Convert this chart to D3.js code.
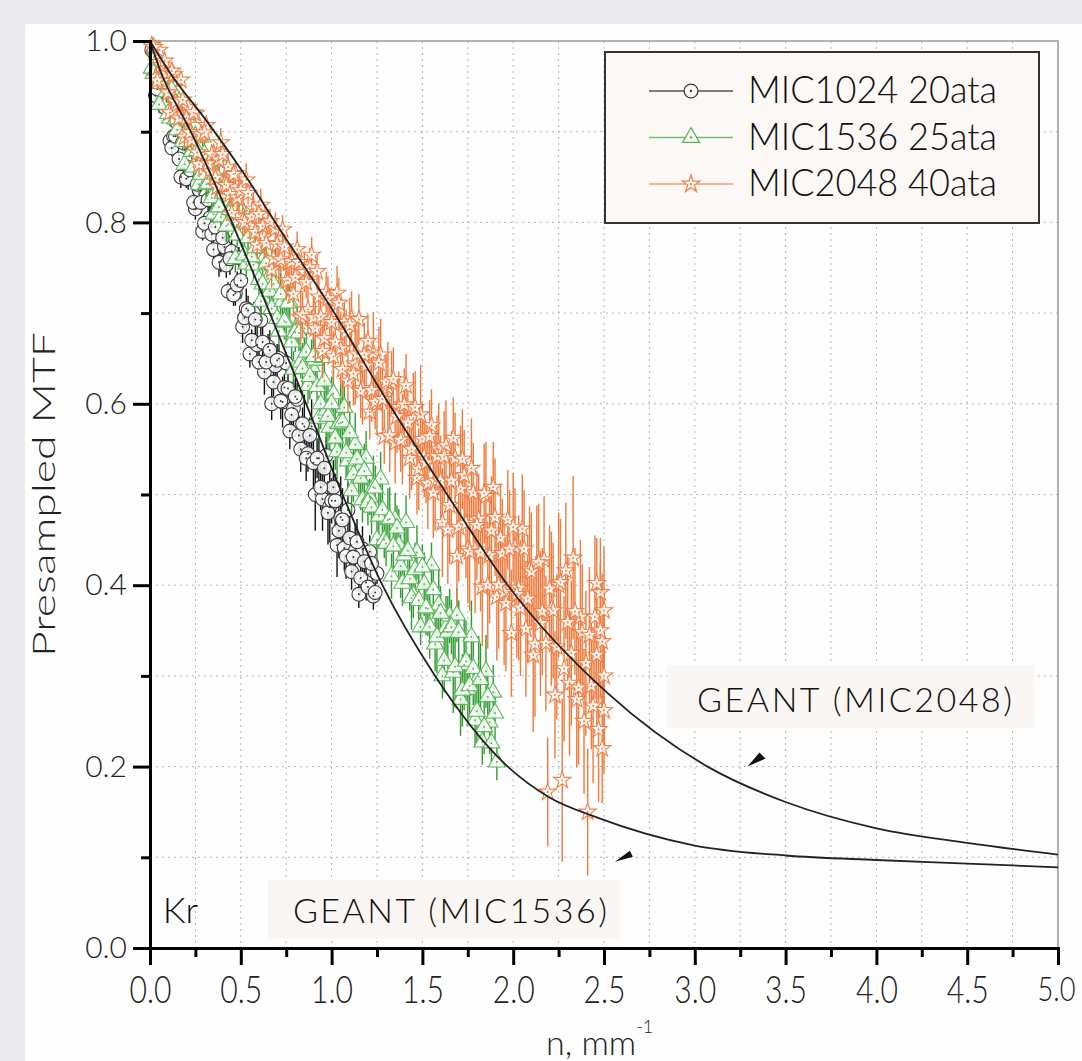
<!DOCTYPE html>
<html>
<head>
<meta charset="utf-8">
<script src="https://cdn.jsdelivr.net/npm/d3@7"></script>
<style>
  body { margin: 0; background: #ebebef; }
  svg { display: block; }
</style>
</head>
<body>
<div id="chart"></div>
<script>
// measured points [n, MTF, error]
const mic1024 = [
  [0.01,0.99,0.005],[0.03,0.94,0.01],[0.05,0.965,0.008],[0.07,0.93,0.012],[0.09,0.955,0.006],[0.11,0.89,0.01],
  [0.13,0.895,0.015],[0.15,0.91,0.008],[0.17,0.85,0.012],[0.19,0.88,0.01],[0.21,0.85,0.014],[0.23,0.875,0.007],
  [0.25,0.815,0.012],[0.27,0.836,0.016],[0.29,0.79,0.01],[0.31,0.83,0.009],[0.33,0.805,0.014],[0.35,0.77,0.011],
  [0.37,0.816,0.018],[0.39,0.757,0.012],[0.41,0.773,0.015],[0.43,0.724,0.01],[0.45,0.768,0.02],[0.47,0.722,0.014],
  [0.49,0.761,0.012],[0.51,0.685,0.018],[0.53,0.705,0.022],[0.55,0.655,0.015],[0.57,0.70,0.012],[0.59,0.665,0.02],
  [0.61,0.692,0.016],[0.63,0.635,0.025],[0.65,0.663,0.014],[0.67,0.60,0.018],[0.69,0.642,0.022],[0.71,0.65,0.015],
  [0.73,0.602,0.028],[0.75,0.645,0.012],[0.77,0.57,0.02],[0.79,0.595,0.03],[0.81,0.605,0.018],[0.83,0.55,0.025],
  [0.85,0.575,0.035],[0.87,0.545,0.02],[0.89,0.575,0.03],[0.91,0.50,0.04],[0.93,0.54,0.025],[0.95,0.495,0.035],
  [0.97,0.543,0.02],[0.99,0.487,0.04],[1.01,0.508,0.03],[1.03,0.444,0.035],[1.05,0.475,0.045],[1.07,0.441,0.025],
  [1.09,0.483,0.03],[1.11,0.415,0.02],[1.13,0.438,0.03],[1.15,0.39,0.015],[1.17,0.44,0.025],[1.19,0.403,0.02],
  [1.21,0.437,0.018],[1.23,0.388,0.015],[1.25,0.413,0.012],
  [0.02,0.988,0.006],[0.04,0.947,0.008],[0.06,0.968,0.01],[0.08,0.927,0.007],[0.10,0.933,0.012],[0.12,0.882,0.009],
  [0.14,0.895,0.011],[0.16,0.87,0.008],[0.18,0.888,0.013],[0.20,0.848,0.01],[0.22,0.858,0.009],[0.24,0.822,0.014],
  [0.26,0.842,0.011],[0.28,0.822,0.012],[0.30,0.799,0.01],[0.32,0.825,0.015],[0.34,0.787,0.012],[0.36,0.795,0.01],
  [0.38,0.756,0.016],[0.40,0.783,0.012],[0.42,0.753,0.014],[0.44,0.76,0.018],[0.46,0.72,0.012],[0.48,0.731,0.015],
  [0.50,0.736,0.02],[0.52,0.695,0.014],[0.54,0.703,0.016],[0.56,0.67,0.012],[0.58,0.693,0.02],[0.60,0.646,0.015],
  [0.62,0.668,0.018],[0.64,0.646,0.014],[0.66,0.659,0.022],[0.68,0.624,0.016],[0.70,0.648,0.018],[0.72,0.603,0.02],
  [0.74,0.618,0.015],[0.76,0.617,0.025],[0.78,0.588,0.018],[0.80,0.608,0.02],[0.82,0.565,0.022],[0.84,0.578,0.018],
  [0.86,0.54,0.025],[0.88,0.565,0.02],[0.90,0.535,0.03],[0.92,0.54,0.022],[0.94,0.508,0.025],[0.96,0.529,0.02],
  [0.98,0.48,0.035],[1.00,0.493,0.025],[1.02,0.493,0.03],[1.04,0.46,0.03],[1.06,0.472,0.035],[1.08,0.432,0.025],
  [1.10,0.452,0.03],[1.12,0.431,0.02],[1.14,0.448,0.025],[1.16,0.408,0.02],[1.18,0.426,0.018],[1.20,0.398,0.015],
  [1.22,0.424,0.015],[1.24,0.392,0.012]
]

const mic1536 = [
  [0.01,0.97,0.006],[0.03,0.99,0.008],[0.05,0.93,0.01],[0.07,0.968,0.007],[0.09,0.944,0.012],[0.11,0.915,0.009],
  [0.13,0.956,0.011],[0.15,0.902,0.008],[0.17,0.918,0.013],[0.19,0.864,0.01],[0.21,0.916,0.009],[0.23,0.878,0.014],
  [0.25,0.895,0.011],[0.27,0.842,0.012],[0.29,0.894,0.01],[0.31,0.842,0.015],[0.33,0.85,0.012],[0.35,0.809,0.01],
  [0.37,0.852,0.016],[0.39,0.806,0.012],[0.41,0.859,0.014],[0.43,0.798,0.018],[0.45,0.816,0.012],[0.47,0.76,0.015],
  [0.49,0.818,0.02],[0.51,0.786,0.014],[0.53,0.754,0.016],[0.55,0.801,0.012],[0.57,0.753,0.02],[0.59,0.771,0.015],
  [0.61,0.713,0.018],[0.63,0.761,0.014],[0.65,0.738,0.022],[0.67,0.705,0.016],[0.69,0.753,0.018],[0.71,0.68,0.02],
  [0.73,0.713,0.015],[0.75,0.69,0.025],[0.77,0.712,0.018],[0.79,0.638,0.02],[0.81,0.685,0.022],[0.83,0.646,0.018],
  [0.85,0.683,0.025],[0.87,0.62,0.02],[0.89,0.641,0.03],[0.91,0.648,0.022],[0.93,0.584,0.025],[0.95,0.651,0.02],
  [0.97,0.593,0.035],[0.99,0.574,0.025],[1.01,0.611,0.04],[1.03,0.547,0.03],[1.05,0.579,0.045],[1.07,0.596,0.03],
  [1.09,0.537,0.04],[1.11,0.504,0.025],[1.13,0.555,0.035],[1.15,0.527,0.03],[1.17,0.494,0.025],[1.19,0.54,0.03],
  [1.21,0.497,0.02],[1.23,0.508,0.035],[1.25,0.45,0.025],[1.27,0.517,0.03],[1.29,0.45,0.02],[1.31,0.472,0.035],
  [1.33,0.41,0.025],[1.35,0.472,0.03],[1.37,0.444,0.04],[1.39,0.402,0.025],[1.41,0.469,0.03],[1.43,0.407,0.035],
  [1.45,0.389,0.025],[1.47,0.436,0.03],[1.49,0.354,0.02],[1.51,0.401,0.035],[1.53,0.374,0.03],[1.55,0.422,0.025],
  [1.57,0.335,0.03],[1.59,0.378,0.04],[1.61,0.30,0.025],[1.63,0.353,0.035],[1.65,0.366,0.03],[1.67,0.304,0.045],
  [1.69,0.367,0.03],[1.71,0.274,0.04],[1.73,0.312,0.05],[1.75,0.285,0.035],[1.77,0.343,0.04],[1.79,0.251,0.03],
  [1.81,0.299,0.045],[1.83,0.227,0.025],[1.85,0.305,0.04],[1.87,0.249,0.035],[1.89,0.282,0.03],[1.91,0.205,0.02],
  [0.02,0.964,0.006],[0.04,0.985,0.008],[0.06,0.953,0.007],[0.08,0.959,0.01],[0.10,0.92,0.008],[0.12,0.946,0.011],
  [0.14,0.914,0.009],[0.16,0.933,0.012],[0.18,0.889,0.01],[0.20,0.90,0.013],[0.22,0.899,0.011],[0.24,0.861,0.014],
  [0.26,0.879,0.012],[0.28,0.853,0.01],[0.30,0.875,0.015],[0.32,0.843,0.012],[0.34,0.827,0.014],[0.36,0.853,0.016],
  [0.38,0.817,0.012],[0.40,0.832,0.015],[0.42,0.796,0.018],[0.44,0.814,0.014],[0.46,0.818,0.016],[0.48,0.786,0.012],
  [0.50,0.81,0.018],[0.52,0.764,0.015],[0.54,0.783,0.02],[0.56,0.762,0.014],[0.58,0.772,0.018],[0.60,0.737,0.02],
  [0.62,0.732,0.016],[0.64,0.755,0.022],[0.66,0.724,0.018],[0.68,0.732,0.02],[0.70,0.694,0.016],[0.72,0.721,0.022],
  [0.74,0.691,0.02],[0.76,0.711,0.025],[0.78,0.668,0.018],[0.80,0.679,0.022],[0.82,0.678,0.02],[0.84,0.639,0.028],
  [0.86,0.657,0.022],[0.88,0.63,0.025],[0.90,0.652,0.03],[0.92,0.619,0.022],[0.94,0.60,0.028],[0.96,0.625,0.025],
  [0.98,0.586,0.035],[1.00,0.60,0.03],[1.02,0.562,0.035],[1.04,0.578,0.03],[1.06,0.58,0.04],[1.08,0.546,0.03],
  [1.10,0.568,0.035],[1.12,0.522,0.03],[1.14,0.539,0.025],[1.16,0.518,0.035],[1.18,0.526,0.03],[1.20,0.491,0.025],
  [1.22,0.486,0.03],[1.24,0.507,0.025],[1.26,0.476,0.035],[1.28,0.483,0.03],[1.30,0.446,0.025],[1.32,0.473,0.035],
  [1.34,0.443,0.03],[1.36,0.463,0.025],[1.38,0.421,0.035],[1.40,0.433,0.03],[1.42,0.438,0.025],[1.44,0.386,0.035],
  [1.46,0.417,0.03],[1.48,0.383,0.035],[1.50,0.42,0.025],[1.52,0.375,0.03],[1.54,0.354,0.035],[1.56,0.395,0.03],
  [1.58,0.343,0.04],[1.60,0.369,0.03],[1.62,0.317,0.035],[1.64,0.348,0.04],[1.66,0.354,0.03],[1.68,0.31,0.045],
  [1.70,0.348,0.035],[1.72,0.284,0.04],[1.74,0.316,0.045],[1.76,0.289,0.035],[1.78,0.308,0.04],[1.80,0.261,0.035],
  [1.82,0.296,0.04],[1.84,0.244,0.03],[1.86,0.277,0.035],[1.88,0.226,0.025],[1.90,0.259,0.03]
]

const mic2048 = [
  [0.01,0.995,0.005],[0.03,0.96,0.008],[0.05,0.99,0.006],[0.07,0.956,0.01],[0.09,0.964,0.007],[0.11,0.921,0.012],
  [0.13,0.963,0.009],[0.15,0.93,0.011],[0.17,0.957,0.008],[0.19,0.894,0.013],[0.21,0.927,0.01],[0.23,0.891,0.012],
  [0.25,0.92,0.009],[0.27,0.864,0.014],[0.29,0.898,0.011],[0.31,0.907,0.01],[0.33,0.856,0.015],[0.35,0.875,0.012],
  [0.37,0.839,0.013],[0.39,0.888,0.016],[0.41,0.842,0.012],[0.43,0.861,0.018],[0.45,0.81,0.014],[0.47,0.854,0.012],
  [0.49,0.828,0.02],[0.51,0.802,0.015],[0.53,0.847,0.018],[0.55,0.796,0.014],[0.57,0.815,0.02],[0.59,0.775,0.016],
  [0.61,0.819,0.018],[0.63,0.784,0.022],[0.65,0.799,0.015],[0.67,0.748,0.02],[0.69,0.793,0.018],[0.71,0.757,0.025],
  [0.73,0.792,0.016],[0.75,0.736,0.022],[0.77,0.756,0.02],[0.79,0.721,0.025],
  [0.81,0.77,0.02],[0.83,0.695,0.03],[0.85,0.745,0.022],[0.87,0.704,0.028],[0.89,0.764,0.02],[0.91,0.683,0.035],
  [0.93,0.718,0.025],[0.95,0.658,0.03],[0.97,0.723,0.022],[0.99,0.693,0.035],[1.01,0.652,0.028],[1.03,0.722,0.03],
  [1.05,0.661,0.04],[1.07,0.69,0.025],[1.09,0.625,0.035],[1.11,0.694,0.03],[1.13,0.644,0.045],[1.15,0.693,0.028],
  [1.17,0.617,0.04],[1.19,0.642,0.035],[1.21,0.591,0.03],[1.23,0.656,0.045],[1.25,0.60,0.035],[1.27,0.654,0.04],
  [1.29,0.564,0.03],[1.31,0.618,0.05],[1.33,0.623,0.035],[1.35,0.557,0.045],[1.37,0.596,0.04],[1.39,0.561,0.05],
  [1.41,0.62,0.035],[1.43,0.54,0.045],[1.45,0.584,0.05],[1.47,0.518,0.04],[1.49,0.588,0.055],[1.51,0.542,0.045],
  [1.53,0.512,0.05],[1.55,0.576,0.04],[1.57,0.515,0.055],[1.59,0.55,0.05],
  [1.61,0.469,0.06],[1.63,0.554,0.05],[1.65,0.488,0.065],[1.67,0.562,0.045],[1.69,0.432,0.055],[1.71,0.506,0.07],
  [1.73,0.521,0.05],[1.75,0.44,0.06],[1.77,0.529,0.055],[1.79,0.439,0.07],[1.81,0.473,0.05],[1.83,0.398,0.065],
  [1.85,0.498,0.06],[1.87,0.433,0.075],[1.89,0.508,0.05],[1.91,0.387,0.07],[1.93,0.452,0.06],[1.95,0.392,0.08],
  [1.97,0.472,0.055],[1.99,0.347,0.07],[2.01,0.442,0.065],[2.03,0.397,0.08],[2.05,0.462,0.06],[2.07,0.352,0.075],
  [2.09,0.417,0.07],[2.11,0.323,0.085],[2.13,0.423,0.065],[2.15,0.358,0.08],[2.17,0.428,0.07],[2.19,0.172,0.06],
  [2.21,0.374,0.085],[2.23,0.279,0.07],[2.25,0.40,0.08],[2.27,0.185,0.09],[2.29,0.416,0.075],[2.31,0.292,0.08],
  [2.33,0.43,0.09],[2.35,0.274,0.075],[2.37,0.365,0.085],[2.39,0.25,0.08],[2.41,0.15,0.07],[2.43,0.289,0.07],
  [2.45,0.365,0.09],[2.47,0.241,0.08],[2.49,0.338,0.075],[2.48,0.392,0.06],[2.5,0.372,0.07],[2.5,0.30,0.08],
  [2.49,0.22,0.06],[2.5,0.262,0.07],[2.46,0.402,0.05],
  [0.02,0.993,0.006],[0.04,0.956,0.008],[0.06,0.973,0.007],[0.08,0.978,0.009],[0.10,0.943,0.01],[0.12,0.967,0.008],
  [0.14,0.933,0.011],[0.16,0.915,0.009],[0.18,0.935,0.012],[0.20,0.915,0.01],[0.22,0.899,0.011],[0.24,0.921,0.009],
  [0.26,0.877,0.013],[0.28,0.897,0.01],[0.30,0.899,0.012],[0.32,0.865,0.014],[0.34,0.875,0.011],[0.36,0.849,0.013],
  [0.38,0.869,0.012],[0.40,0.875,0.015],[0.42,0.841,0.012],[0.44,0.831,0.014],[0.46,0.853,0.012],[0.48,0.827,0.016],
  [0.50,0.835,0.013],[0.52,0.80,0.015],[0.54,0.832,0.012],[0.56,0.806,0.016],[0.58,0.789,0.014],[0.60,0.809,0.015],
  [0.62,0.796,0.013],[0.64,0.777,0.016],[0.66,0.801,0.014],[0.68,0.76,0.018],[0.70,0.776,0.015],[0.72,0.759,0.016],
  [0.74,0.773,0.014],[0.76,0.736,0.018],[0.78,0.757,0.015],[0.80,0.739,0.018],
  [0.82,0.756,0.02],[0.84,0.698,0.025],[0.86,0.734,0.018],[0.88,0.75,0.022],[0.90,0.695,0.025],[0.92,0.746,0.02],
  [0.94,0.696,0.028],[0.96,0.672,0.022],[0.98,0.716,0.025],[1.00,0.69,0.03],[1.02,0.668,0.025],[1.04,0.711,0.028],
  [1.06,0.638,0.03],[1.08,0.679,0.025],[1.10,0.687,0.03],[1.12,0.633,0.035],[1.14,0.655,0.028],[1.16,0.614,0.03],
  [1.18,0.654,0.035],[1.20,0.669,0.03],[1.22,0.615,0.035],[1.24,0.602,0.03],[1.26,0.645,0.04],[1.28,0.605,0.035],
  [1.30,0.624,0.03],[1.32,0.565,0.04],[1.34,0.627,0.035],[1.36,0.586,0.04],[1.38,0.56,0.035],[1.40,0.599,0.04],
  [1.42,0.579,0.035],[1.44,0.55,0.045],[1.46,0.596,0.04],[1.48,0.528,0.045],[1.50,0.561,0.04],[1.52,0.535,0.045],
  [1.54,0.564,0.04],[1.56,0.502,0.05],[1.58,0.542,0.045],[1.60,0.515,0.05],
  [1.62,0.542,0.05],[1.64,0.461,0.06],[1.66,0.515,0.055],[1.68,0.54,0.05],[1.70,0.464,0.06],[1.72,0.539,0.055],
  [1.74,0.468,0.06],[1.76,0.437,0.065],[1.78,0.502,0.055],[1.80,0.466,0.06],[1.82,0.436,0.065],[1.84,0.501,0.055],
  [1.86,0.40,0.07],[1.88,0.46,0.06],[1.90,0.475,0.065],[1.92,0.40,0.07],[1.94,0.435,0.06],[1.96,0.38,0.075],
  [1.98,0.44,0.065],[2.00,0.464,0.06],[2.02,0.39,0.07],[2.04,0.375,0.075],[2.06,0.44,0.065],[2.08,0.385,0.07],
  [2.10,0.415,0.065],[2.12,0.335,0.08],[2.14,0.425,0.065],[2.16,0.371,0.07],[2.18,0.336,0.075],[2.20,0.396,0.07],
  [2.22,0.372,0.075],[2.24,0.332,0.08],[2.26,0.403,0.07],[2.28,0.308,0.08],[2.30,0.359,0.075],[2.32,0.325,0.08],
  [2.34,0.371,0.07],[2.36,0.287,0.085],[2.38,0.348,0.075],[2.40,0.314,0.08],[2.42,0.345,0.075],[2.44,0.267,0.085],
  [2.46,0.323,0.08],[2.48,0.35,0.075]
]

// GEANT simulation curves [n, MTF]
const geant2048 = [[0,1.0],[0.12,0.962],[0.3,0.915],[0.53,0.85],[0.69,0.80],[1.0,0.705],[1.3,0.605],[1.62,0.505],
  [1.97,0.40],[2.52,0.281],[3.07,0.20],[3.5,0.161],[4.0,0.132],[4.5,0.116],[5.0,0.103]]
const geant1536 = [[0,1.0],[0.055,0.968],[0.22,0.902],[0.33,0.855],[0.44,0.805],[0.66,0.70],[0.86,0.60],[1.06,0.50],
  [1.28,0.40],[1.57,0.30],[1.97,0.20],[2.2,0.166],[2.46,0.144],[3.0,0.113],[3.5,0.102],[4.0,0.097],[4.5,0.093],[5.0,0.089]]

const xMajor = [0, 0.5, 1, 1.5, 2, 2.5, 3, 3.5, 4, 4.5, 5]
const xMinor = [0.25, 0.75, 1.25, 1.75, 2.25, 2.75, 3.25, 3.75, 4.25, 4.75]
const yMajor = [0, 0.2, 0.4, 0.6, 0.8, 1.0]
const yMinor = [0.1, 0.3, 0.5, 0.7, 0.9]

const seriesNames = ['MIC1024 20ata', 'MIC1536 25ata', 'MIC2048 40ata']
// arrowhead tips [n, MTF]
const arrowTips = [[3.29, 0.20], [2.56, 0.095]]

const W = 1082, H = 1061
const svg = d3.select('#chart').append('svg')
  .attr('width', W)
  .attr('height', H)

svg.append('rect').attr('width', W).attr('height', H).attr('fill', '#ebebef')
svg.append('rect').attr('x', 25).attr('y', 24).attr('width', W - 25).attr('height', H - 24).attr('fill', '#fefefe')

const x = d3.scaleLinear().domain([0, 5]).range([150, 1058])
const y = d3.scaleLinear().domain([0, 1]).range([948, 41])

// grid
const grid = svg.append('g').attr('stroke', '#b4b4b4').attr('stroke-width', 1).attr('stroke-dasharray', '2,4')
grid.selectAll('.vg').data(xMinor.concat(xMajor.slice(1, -1))).enter().append('line')
  .attr('x1', d => x(d)).attr('x2', d => x(d)).attr('y1', y(1)).attr('y2', y(0))
grid.selectAll('.hg').data(yMinor.concat(yMajor.slice(1, -1))).enter().append('line')
  .attr('y1', d => y(d)).attr('y2', d => y(d)).attr('x1', x(0)).attr('x2', x(5))

// frame top / right
svg.append('path')
  .attr('d', `M${x(0)},${y(1)}H${x(5)}V${y(0)}`)
  .attr('fill', 'none').attr('stroke', '#999').attr('stroke-width', 1.5)

const lato = 'Lato, "Open Sans", sans-serif'
const boxFill = '#faf6f3'

// annotation boxes
svg.append('rect').attr('x', x(2.85)).attr('y', y(0.312)).attr('width', x(4.87) - x(2.85)).attr('height', y(0.243) - y(0.312))
  .attr('fill', boxFill)
svg.append('text').attr('x', x(3.88)).attr('y', y(0.26)).attr('text-anchor', 'middle')
  .attr('font-family', lato).attr('font-weight', 300).attr('font-size', 34).attr('fill', '#111')
  .attr('textLength', 315).attr('lengthAdjust', 'spacing')
  .text('GEANT (MIC2048)')

svg.append('rect').attr('x', x(0.65)).attr('y', y(0.075)).attr('width', x(2.59) - x(0.65)).attr('height', y(0.01) - y(0.075))
  .attr('fill', boxFill)
svg.append('text').attr('x', x(0.787)).attr('y', y(0.0276))
  .attr('font-family', lato).attr('font-weight', 300).attr('font-size', 34).attr('fill', '#111')
  .attr('textLength', 314).attr('lengthAdjust', 'spacing')
  .text('GEANT (MIC1536)')
svg.append('text').attr('x', x(0.07)).attr('y', y(0.0276))
  .attr('font-family', lato).attr('font-weight', 300).attr('font-size', 36).attr('fill', '#111')
  .text('Kr')

// series: error bars first, then white-filled symbols on top
const series = [
  { data: mic1024, stroke: '#3a3a3a', bar: '#111', symbol: d3.symbolCircle, size: 150 },
  { data: mic1536, stroke: '#5cb85c', bar: '#2f9a2f', symbol: d3.symbolTriangle, size: 125 },
  { data: mic2048, stroke: '#ef8048', bar: '#ee7a3c', symbol: d3.symbolStar, size: 95 }
]

series.forEach(s => {
  const g = svg.append('g')
  g.selectAll('line').data(s.data).enter().append('line')
    .attr('x1', d => x(d[0])).attr('x2', d => x(d[0]))
    .attr('y1', d => y(d[1] - d[2])).attr('y2', d => y(d[1] + d[2]))
    .attr('stroke', s.bar).attr('stroke-width', 1.4)
  g.selectAll('path').data(s.data).enter().append('path')
    .attr('d', d3.symbol(s.symbol, s.size))
    .attr('transform', d => `translate(${x(d[0])},${y(d[1])})`)
    .attr('fill', '#fff').attr('fill-opacity', 0.85)
    .attr('stroke', s.stroke).attr('stroke-width', 1.1)
  g.selectAll('circle').data(s.data).enter().append('circle')
    .attr('cx', d => x(d[0])).attr('cy', d => y(d[1])).attr('r', 1)
    .attr('fill', s.stroke)
})

// GEANT curves
const line = d3.line().x(d => x(d[0])).y(d => y(d[1])).curve(d3.curveMonotoneX)
;[geant2048, geant1536].forEach(c => {
  svg.append('path').datum(c).attr('d', line)
    .attr('fill', 'none').attr('stroke', '#222').attr('stroke-width', 1.8)
})

// arrowheads
const arrowShapes = [[[0, 0], [12, -14], [18, -8]], [[0, 0], [15, -11], [18, -5]]]
svg.selectAll('.arrow').data(arrowTips).enter().append('path')
  .attr('d', (d, i) => 'M' + arrowShapes[i].map(p => [x(d[0]) + p[0], y(d[1]) + p[1]].join(',')).join('L') + 'Z')
  .attr('fill', '#111')

// axes
const axisG = svg.append('g')
const yAxis = axisG.append('g').attr('transform', `translate(${x(0)},0)`)
  .call(d3.axisLeft(y).tickValues(yMajor).tickSize(17).tickPadding(6).tickFormat(d3.format('.1f')))
axisG.append('g').attr('transform', `translate(${x(0)},0)`)
  .call(d3.axisLeft(y).tickValues(yMinor).tickSize(9).tickFormat(''))
const xAxis = axisG.append('g').attr('transform', `translate(0,${y(0)})`)
  .call(d3.axisBottom(x).tickValues(xMajor).tickSize(17).tickPadding(12).tickFormat(d3.format('.1f')))
axisG.append('g').attr('transform', `translate(0,${y(0)})`)
  .call(d3.axisBottom(x).tickValues(xMinor).tickSize(9).tickFormat(''))

axisG.selectAll('.domain').attr('stroke', '#000').attr('stroke-width', 3)
axisG.selectAll('.tick line').attr('stroke', '#000').attr('stroke-width', 3)
yAxis.selectAll('text').attr('font-family', lato).attr('font-weight', 300).attr('font-size', 30).attr('fill', '#222')
xAxis.selectAll('text').attr('font-family', lato).attr('font-weight', 300)
  .attr('font-size', 37).attr('fill', '#222')
  .attr('textLength', 42).attr('lengthAdjust', 'spacingAndGlyphs')
// last label sits at the right edge
xAxis.selectAll('.tick').filter(d => d === 5).select('text')
  .attr('font-size', 34).attr('textLength', 38).attr('x', -2)

// axis titles
svg.append('text')
  .attr('transform', `translate(55,${(y(0) + y(1)) / 2}) rotate(-90)`)
  .attr('text-anchor', 'middle')
  .attr('font-family', lato).attr('font-weight', 300).attr('font-size', 31).attr('fill', '#222')
  .attr('textLength', 325).attr('lengthAdjust', 'spacingAndGlyphs')
  .text('Presampled MTF')

const xt = svg.append('text').attr('x', 546).attr('y', 1055)
  .attr('font-family', lato).attr('font-weight', 300).attr('font-size', 34).attr('fill', '#222')
xt.append('tspan').text('n, mm')
xt.append('tspan').attr('font-size', 18).attr('dy', -22).text('-1')

// legend
const lg = svg.append('g')
lg.append('rect').attr('x', 605).attr('y', 52).attr('width', 434).attr('height', 171)
  .attr('fill', '#fbf8f6').attr('stroke', '#333').attr('stroke-width', 2)
const legendLine = ['#555', '#6fc06f', '#f2a070']
series.forEach((s, i) => {
  const cy = 91 + i * 46.5
  lg.append('line').attr('x1', 649).attr('x2', 733).attr('y1', cy).attr('y2', cy)
    .attr('stroke', legendLine[i]).attr('stroke-width', 1.5)
  lg.append('path').attr('d', d3.symbol(s.symbol, s.size))
    .attr('transform', `translate(691,${cy})`)
    .attr('fill', '#fbf8f6').attr('stroke', s.stroke).attr('stroke-width', 1.3)
  lg.append('circle').attr('cx', 691).attr('cy', cy).attr('r', 1.2).attr('fill', s.stroke)
  lg.append('text').attr('x', 748).attr('y', cy + 12)
    .attr('font-family', lato).attr('font-weight', 300).attr('font-size', 37).attr('fill', '#111')
    .attr('textLength', 249).attr('lengthAdjust', 'spacingAndGlyphs')
    .text(seriesNames[i])
})
</script>
</body>
</html>
